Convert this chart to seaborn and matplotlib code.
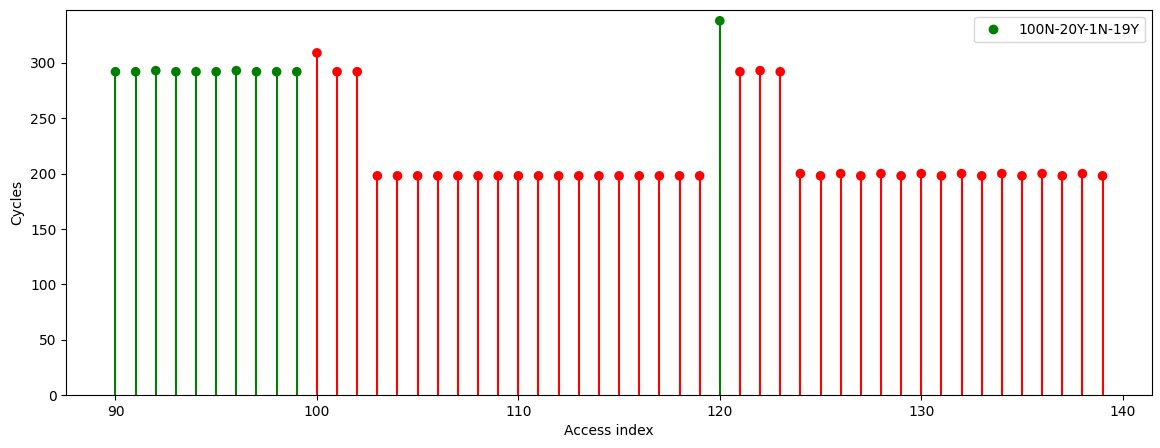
import pandas as pd
import matplotlib
matplotlib.use('Agg')
import matplotlib.pyplot as plt
import seaborn as sns
from matplotlib.lines import Line2D

access_index = list(range(90, 140))
cycles = [292, 292, 293, 292, 292, 292, 293, 292, 292, 292,
          309, 292, 292,
          198, 198, 198, 198, 198, 198, 198, 198, 198, 198, 198, 198, 198, 198, 198, 198, 198,
          338,
          292, 293, 292,
          200, 198, 200, 198, 200, 198, 200, 198, 200, 198, 200, 198, 200, 198, 200, 198]
status = ['Y'] * 10 + ['N'] * 20 + ['Y'] + ['N'] * 19
legend_label = '100N-20Y-1N-19Y'
palette = {'Y': 'green', 'N': 'red'}


def plot_accesses(df):
    fig, ax = plt.subplots(figsize=(11.6, 4.48), dpi=100)
    colors = [palette[s] for s in df['status']]
    ax.vlines(df['index'], 0, df['cycles'], colors=colors, linewidth=1.5)
    sns.scatterplot(data=df, x='index', y='cycles', hue='status', palette=palette,
                    s=48, linewidth=0, legend=False, ax=ax, zorder=3)
    ax.set_xlim(87.55, 141.45)
    ax.set_ylim(0, max(df['cycles']) * 1.028)
    ax.set_xlabel('Access index')
    ax.set_ylabel('Cycles')
    handle = Line2D([], [], marker='o', color='green', linestyle='none', markersize=6)
    ax.legend([handle], [legend_label], loc='upper right')
    fig.subplots_adjust(left=0.057, right=0.993, top=0.977, bottom=0.118)
    fig.savefig('out.png', dpi=100)


def main():
    df = pd.DataFrame({'index': access_index, 'cycles': cycles, 'status': status})
    plot_accesses(df)


if __name__ == '__main__':
    main()
